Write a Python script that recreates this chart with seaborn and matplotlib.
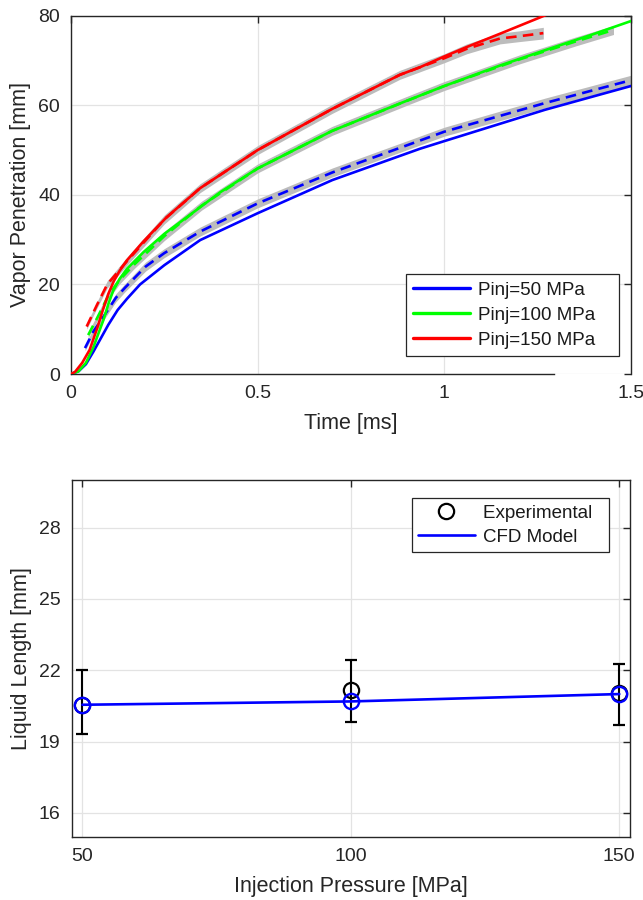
import numpy as np
import pandas as pd
import matplotlib
matplotlib.use("Agg")
import matplotlib.pyplot as plt
from matplotlib.lines import Line2D
import seaborn as sns

# ---------------- data: vapor penetration ----------------
cases = ["Pinj=50 MPa", "Pinj=100 MPa", "Pinj=150 MPa"]
colors = ["#0000ff", "#00ff00", "#ff0000"]

# CFD model (solid lines)
cfd50_t = [0, 0.02, 0.04, 0.06, 0.08, 0.10, 0.125, 0.15, 0.185, 0.25, 0.346, 0.5, 0.7, 0.935, 1.0, 1.27, 1.5]
cfd50_v = [0, 0.6, 2.2, 5.0, 8.0, 11.0, 14.3, 16.8, 20.0, 24.3, 29.9, 35.9, 43.3, 50.3, 52.0, 59.0, 64.3]

cfd100_t = [0, 0.02, 0.04, 0.06, 0.087, 0.1, 0.113, 0.13, 0.15, 0.194, 0.25, 0.31, 0.4, 0.5, 0.7, 0.881, 1.0, 1.15, 1.27, 1.4, 1.5]
cfd100_v = [0, 0.6, 2.5, 6.0, 12.1, 15.6, 18.6, 21.2, 23.5, 27.2, 31.3, 35.0, 40.6, 45.9, 54.3, 60.4, 64.3, 68.9, 72.3, 75.9, 78.8]

cfd150_t = [0, 0.011, 0.03, 0.05, 0.07, 0.085, 0.1, 0.115, 0.13, 0.149, 0.194, 0.256, 0.346, 0.5, 0.7, 0.881, 0.935, 1.0, 1.06, 1.15, 1.256, 1.29]
cfd150_v = [0, 0.5, 2.5, 5.4, 10.2, 14.2, 17.9, 20.8, 23.0, 25.3, 29.6, 35.0, 41.5, 50.0, 59.2, 66.8, 68.5, 70.9, 73.0, 76.0, 79.6, 80.8]

# Experimental mean (dashed) and spread (grey band)
exp50_t = [0.0375, 0.06, 0.087, 0.12, 0.145, 0.2, 0.25, 0.346, 0.5, 0.7, 1.0, 1.27, 1.5]
exp50_v = [5.8, 9.5, 12.8, 17.0, 19.3, 24.0, 27.0, 31.8, 38.1, 45.0, 54.1, 60.5, 65.6]
exp50_s = [0.6, 0.7, 0.8, 0.9, 0.9, 1.0, 1.0, 1.0, 1.0, 1.0, 1.0, 1.1, 1.1]

exp100_t = [0.046, 0.07, 0.1, 0.13, 0.17, 0.25, 0.35, 0.5, 0.7, 0.9, 1.0, 1.2, 1.35, 1.453]
exp100_v = [8.7, 12.5, 17.5, 21.0, 24.5, 30.8, 37.6, 45.9, 54.3, 61.0, 64.3, 70.2, 74.2, 76.8]
exp100_s = [0.6, 0.7, 0.8, 0.9, 0.9, 1.0, 1.0, 1.0, 1.0, 1.0, 1.0, 1.0, 1.0, 1.0]

exp150_t = [0.042, 0.07, 0.097, 0.149, 0.25, 0.346, 0.5, 0.7, 0.881, 1.0, 1.06, 1.149, 1.2, 1.265]
exp150_v = [10.6, 15.5, 20.0, 25.1, 34.5, 41.5, 50.0, 59.2, 66.8, 70.5, 72.6, 74.9, 75.4, 76.1]
exp150_s = [0.6, 0.7, 0.8, 0.9, 1.0, 1.0, 1.0, 1.0, 1.0, 1.0, 1.1, 1.2, 1.2, 1.3]

# ---------------- data: liquid length ----------------
pressure = [50, 100, 150]
exp_ll = [20.56, 21.16, 21.03]
exp_ll_lo = [19.30, 19.84, 19.68]
exp_ll_hi = [22.00, 22.43, 22.28]
cfd_ll = [20.55, 20.69, 21.00]

# ---------------- style ----------------
sns.set_style("white")
plt.rcParams["font.family"] = ["Liberation Sans", "DejaVu Sans"]
axcol = "#262626"
gridcol = "#e3e3e3"
LW = 1.9

fig = plt.figure(figsize=(6.43, 9.0), dpi=100)
ax1 = fig.add_axes([0.1104, 0.5844, 0.8710, 0.3982])
ax2 = fig.add_axes([0.1115, 0.0703, 0.8683, 0.3963])

cfd_df = pd.concat([
    pd.DataFrame({"t": cfd50_t, "v": cfd50_v, "case": cases[0]}),
    pd.DataFrame({"t": cfd100_t, "v": cfd100_v, "case": cases[1]}),
    pd.DataFrame({"t": cfd150_t, "v": cfd150_v, "case": cases[2]}),
])
exp_df = pd.concat([
    pd.DataFrame({"t": exp50_t, "v": exp50_v, "s": exp50_s, "case": cases[0]}),
    pd.DataFrame({"t": exp100_t, "v": exp100_v, "s": exp100_s, "case": cases[1]}),
    pd.DataFrame({"t": exp150_t, "v": exp150_v, "s": exp150_s, "case": cases[2]}),
])
pal = dict(zip(cases, colors))

# grey bands
for c in cases:
    d = exp_df[exp_df["case"] == c]
    ax1.fill_between(d["t"], d["v"] - d["s"], d["v"] + d["s"], color="#bcbcbc",
                     lw=0, zorder=1)

sns.lineplot(data=exp_df, x="t", y="v", hue="case", palette=pal, ax=ax1,
             estimator=None, sort=False, lw=LW, dashes=False, legend=False,
             zorder=2)
for ln in ax1.get_lines():
    ln.set_dashes((4.0, 2.4))
sns.lineplot(data=cfd_df, x="t", y="v", hue="case", palette=pal, ax=ax1,
             estimator=None, sort=False, lw=LW, legend=False, zorder=3)

ax1.set_xlim(0, 1.5)
ax1.set_ylim(0, 80)
ax1.set_xticks([0, 0.5, 1, 1.5])
ax1.set_xticklabels(["0", "0.5", "1", "1.5"])
ax1.set_yticks([0, 20, 40, 60, 80])
ax1.set_xlabel("Time [ms]", fontsize=15.5, color=axcol, labelpad=8)
ax1.set_ylabel("Vapor Penetration [mm]", fontsize=15.5, color=axcol, labelpad=5)

handles1 = [Line2D([], [], color=col, lw=2.4) for col in colors]
leg1 = ax1.legend(handles1, [c + "   " for c in cases], loc="upper left",
                  bbox_to_anchor=(0.598, 0.279),
                  borderaxespad=0, fontsize=13.5, handlelength=3.0, handletextpad=0.45,
                  labelspacing=0.42, borderpad=0.4, fancybox=False, framealpha=1,
                  edgecolor=axcol)
leg1.get_frame().set_linewidth(0.9)
for t in leg1.get_texts():
    t.set_color("#1a1a1a")

# ---------------- liquid length ----------------
yerr = [np.array(exp_ll) - np.array(exp_ll_lo), np.array(exp_ll_hi) - np.array(exp_ll)]
ax2.errorbar(pressure, exp_ll, yerr=yerr, fmt="o", color="black", mfc="none",
             mec="black", ms=11, mew=1.6, elinewidth=1.5, capsize=4, capthick=1.5,
             zorder=2)
ll_df = pd.DataFrame({"p": pressure, "ll": cfd_ll})
sns.lineplot(data=ll_df, x="p", y="ll", ax=ax2, color="#0000ff", lw=LW,
             marker="o", markersize=11, markerfacecolor="none",
             markeredgecolor="#0000ff", markeredgewidth=1.7, zorder=3)
ax2.set_xlim(48, 152)
ax2.set_ylim(15, 30)
ax2.set_xticks([50, 100, 150])
ax2.set_yticks([16, 19, 22, 25, 28])
ax2.set_xlabel("Injection Pressure [MPa]", fontsize=15.5, color=axcol, labelpad=8)
ax2.set_ylabel("Liquid Length [mm]", fontsize=15.5, color=axcol, labelpad=5)

handles2 = [Line2D([], [], marker="o", ls="none", mfc="none", mec="black", ms=11, mew=1.6),
            Line2D([], [], color="#0000ff", lw=LW)]
leg2 = ax2.legend(handles2, ["Experimental  ", "CFD Model  "], loc="upper left",
                  bbox_to_anchor=(0.609, 0.9487), borderaxespad=0, fontsize=13.5,
                  handlelength=3.0, handletextpad=0.45, labelspacing=0.35,
                  borderpad=0.35, fancybox=False, framealpha=1, edgecolor=axcol)
leg2.get_frame().set_linewidth(0.9)
for t in leg2.get_texts():
    t.set_color("#1a1a1a")

for ax in (ax1, ax2):
    ax.grid(True, color=gridcol, lw=0.9)
    ax.set_axisbelow(True)
    for sp in ax.spines.values():
        sp.set_visible(True)
        sp.set_color(axcol)
        sp.set_linewidth(1.0)
    ax.tick_params(direction="in", top=True, right=True, length=5, width=1.0,
                   color=axcol, labelcolor=axcol, labelsize=14, pad=8)
    ax.set_facecolor("white")

# bottom spine of upper panel stops short (as in the reference)
ax1.spines["bottom"].set_bounds(0, 1.294)

fig.savefig("out.png", dpi=100, facecolor="white")
